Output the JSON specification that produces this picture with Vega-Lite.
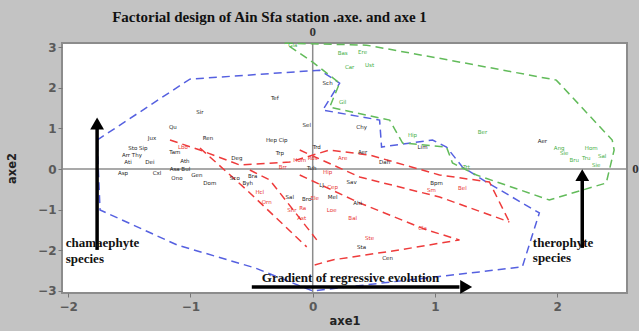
{
  "$schema": "https://vega.github.io/schema/vega-lite/v6.json",
  "width": 565,
  "height": 250,
  "autosize": {"type": "none"},
  "padding": {"left": 62, "top": 43, "right": 12, "bottom": 38},
  "background": "#c3c3c3",
  "view": {"fill": "white", "stroke": "#8c8c8c", "strokeWidth": 2},
  "title": {
    "text": "Factorial design of Ain Sfa station .axe. and axe 1",
    "font": "Liberation Serif",
    "fontSize": 15,
    "fontWeight": "bold",
    "color": "#111",
    "anchor": "middle",
    "dx": -75,
    "offset": 1
  },
  "config": {
    "axis": {
      "grid": false,
      "domain": false,
      "tickColor": "#777",
      "tickSize": 4,
      "labelFont": "DejaVu Sans",
      "labelFontSize": 12,
      "labelFontWeight": "bold",
      "labelColor": "#5a5a5a",
      "titleFont": "DejaVu Sans",
      "titleFontSize": 11.5,
      "titleFontWeight": "bold",
      "titleColor": "#222"
    }
  },
  "resolve": {"scale": {"color": "independent"}},
  "encoding": {
    "x": {"field": "x", "type": "quantitative",
      "scale": {"domain": [-2.05, 2.57], "nice": false, "zero": false},
      "axis": {"values": [-2, -1, 0, 1, 2], "title": "axe1", "labelPadding": 4, "titlePadding": 3}},
    "y": {"field": "y", "type": "quantitative",
      "scale": {"domain": [-3.05, 3.1], "nice": false, "zero": false},
      "axis": {"values": [-3, -2, -1, 0, 1, 2, 3], "title": "axe2", "labelPadding": 2, "titlePadding": 20}}
  },
  "datasets": {
    "labels": [
      {"x": -0.31, "y": 1.744, "t": "Tef", "g": "k"},
      {"x": -0.922, "y": 1.4, "t": "Sir", "g": "k"},
      {"x": -1.143, "y": 1.032, "t": "Qu", "g": "k"},
      {"x": -0.049, "y": 1.081, "t": "Sel", "g": "k"},
      {"x": -1.314, "y": 0.762, "t": "Jux", "g": "k"},
      {"x": -0.857, "y": 0.762, "t": "Ren", "g": "k"},
      {"x": -0.294, "y": 0.713, "t": "Hep Cip", "g": "k"},
      {"x": -1.429, "y": 0.516, "t": "Sto Sip", "g": "k"},
      {"x": -1.127, "y": 0.418, "t": "Tam", "g": "k"},
      {"x": -0.269, "y": 0.393, "t": "Trp", "g": "k"},
      {"x": -1.478, "y": 0.344, "t": "Arr Thy", "g": "k"},
      {"x": -1.51, "y": 0.172, "t": "Ati", "g": "k"},
      {"x": -1.331, "y": 0.172, "t": "Dei", "g": "k"},
      {"x": -0.62, "y": 0.27, "t": "Deg", "g": "k"},
      {"x": -1.045, "y": 0.197, "t": "Ath", "g": "k"},
      {"x": -1.551, "y": -0.098, "t": "Asp", "g": "k"},
      {"x": -1.273, "y": -0.098, "t": "Cxl", "g": "k"},
      {"x": -1.086, "y": 0.0, "t": "Asa Bul", "g": "k"},
      {"x": -1.11, "y": -0.221, "t": "Ono", "g": "k"},
      {"x": -0.947, "y": -0.147, "t": "Gen", "g": "k"},
      {"x": -0.841, "y": -0.344, "t": "Dom", "g": "k"},
      {"x": -0.637, "y": -0.221, "t": "Sco", "g": "k"},
      {"x": -0.531, "y": -0.344, "t": "Byh", "g": "k"},
      {"x": -0.49, "y": -0.172, "t": "Bra", "g": "k"},
      {"x": -0.188, "y": -0.688, "t": "Sal", "g": "k"},
      {"x": -0.049, "y": -0.737, "t": "Bro", "g": "k"},
      {"x": 0.122, "y": 2.113, "t": "Sch", "g": "k"},
      {"x": 0.4, "y": 1.032, "t": "Chy", "g": "k"},
      {"x": 0.033, "y": 0.541, "t": "Trd", "g": "k"},
      {"x": 0.408, "y": 0.418, "t": "Aer", "g": "k"},
      {"x": -0.008, "y": 0.025, "t": "Tuh", "g": "k"},
      {"x": 0.588, "y": 0.172, "t": "Dah", "g": "k"},
      {"x": 0.898, "y": 0.541, "t": "Lim", "g": "k"},
      {"x": 0.318, "y": -0.319, "t": "Sav", "g": "k"},
      {"x": 0.073, "y": -0.393, "t": "LJ", "g": "k"},
      {"x": 0.163, "y": -0.688, "t": "Mel", "g": "k"},
      {"x": 0.367, "y": -0.835, "t": "Ahi", "g": "k"},
      {"x": 0.4, "y": -1.916, "t": "Sta", "g": "k"},
      {"x": 1.012, "y": -0.344, "t": "Bpm", "g": "k"},
      {"x": 0.612, "y": -2.187, "t": "Cen", "g": "k"},
      {"x": 1.878, "y": 0.688, "t": "Aer", "g": "k"},
      {"x": -1.061, "y": 0.541, "t": "Lbo", "g": "r"},
      {"x": -0.433, "y": -0.565, "t": "Hcl", "g": "r"},
      {"x": -0.376, "y": -0.811, "t": "Orn", "g": "r"},
      {"x": -0.171, "y": -1.007, "t": "Shr", "g": "r"},
      {"x": -0.09, "y": -1.204, "t": "Ast", "g": "r"},
      {"x": -0.106, "y": 0.221, "t": "Hom", "g": "r"},
      {"x": 0.0, "y": 0.27, "t": "Ros", "g": "r"},
      {"x": 0.245, "y": 0.27, "t": "Are", "g": "r"},
      {"x": 0.122, "y": -0.074, "t": "Hip", "g": "r"},
      {"x": 0.163, "y": -0.442, "t": "Cep", "g": "r"},
      {"x": 0.016, "y": -0.713, "t": "Ele", "g": "r"},
      {"x": 0.155, "y": -1.007, "t": "Loe", "g": "r"},
      {"x": -0.082, "y": -0.958, "t": "Ra", "g": "r"},
      {"x": 0.327, "y": -1.204, "t": "Bal", "g": "r"},
      {"x": 0.898, "y": -1.45, "t": "Cla", "g": "r"},
      {"x": 0.465, "y": -1.695, "t": "Ste", "g": "r"},
      {"x": 0.971, "y": -0.516, "t": "Sm", "g": "r"},
      {"x": 1.224, "y": -0.467, "t": "Bel", "g": "r"},
      {"x": -0.245, "y": 0.049, "t": "Brr", "g": "r"},
      {"x": -0.163, "y": 3.047, "t": "Gla", "g": "g"},
      {"x": 0.245, "y": 2.85, "t": "Bas", "g": "g"},
      {"x": 0.408, "y": 2.875, "t": "Ere", "g": "g"},
      {"x": 0.302, "y": 2.506, "t": "Car", "g": "g"},
      {"x": 0.465, "y": 2.555, "t": "Ust", "g": "g"},
      {"x": 0.245, "y": 1.646, "t": "Gil", "g": "g"},
      {"x": 0.816, "y": 0.835, "t": "Hip", "g": "g"},
      {"x": 1.388, "y": 0.909, "t": "Ber", "g": "g"},
      {"x": 1.257, "y": 0.049, "t": "Trt", "g": "g"},
      {"x": 2.016, "y": 0.516, "t": "Ang", "g": "g"},
      {"x": 2.057, "y": 0.393, "t": "Sie", "g": "g"},
      {"x": 2.278, "y": 0.516, "t": "Hom", "g": "g"},
      {"x": 2.139, "y": 0.221, "t": "Bru", "g": "g"},
      {"x": 2.237, "y": 0.27, "t": "Tru", "g": "g"},
      {"x": 2.367, "y": 0.319, "t": "Sal", "g": "g"},
      {"x": 2.318, "y": 0.098, "t": "Sie", "g": "g"}
    ],
    "hulls": [
      {"grp": "b", "o": 1, "x": -1.763, "y": 0.713},
      {"grp": "b", "o": 2, "x": -1.004, "y": 2.211},
      {"grp": "b", "o": 3, "x": 0.057, "y": 2.432},
      {"grp": "b", "o": 4, "x": 0.22, "y": 2.113},
      {"grp": "b", "o": 5, "x": 0.082, "y": 1.45},
      {"grp": "b", "o": 6, "x": 0.547, "y": 1.204},
      {"grp": "b", "o": 7, "x": 0.563, "y": 0.541},
      {"grp": "b", "o": 8, "x": 0.98, "y": 0.713},
      {"grp": "b", "o": 9, "x": 1.094, "y": 0.541},
      {"grp": "b", "o": 10, "x": 1.224, "y": 0.049},
      {"grp": "b", "o": 11, "x": 1.42, "y": -0.319},
      {"grp": "b", "o": 12, "x": 1.853, "y": -1.081},
      {"grp": "b", "o": 13, "x": 1.714, "y": -2.408},
      {"grp": "b", "o": 14, "x": 1.363, "y": -2.531},
      {"grp": "b", "o": 15, "x": 0.0, "y": -3.0},
      {"grp": "b", "o": 16, "x": -0.473, "y": -2.432},
      {"grp": "b", "o": 17, "x": -1.11, "y": -1.867},
      {"grp": "b", "o": 18, "x": -1.739, "y": -1.007},
      {"grp": "b", "o": 19, "x": -1.763, "y": 0.713},
      {"grp": "g", "o": 1, "x": -0.229, "y": 3.096},
      {"grp": "g", "o": 2, "x": 0.441, "y": 3.047},
      {"grp": "g", "o": 3, "x": 1.118, "y": 2.678},
      {"grp": "g", "o": 4, "x": 1.992, "y": 2.187},
      {"grp": "g", "o": 5, "x": 2.449, "y": 0.713},
      {"grp": "g", "o": 6, "x": 2.465, "y": 0.467},
      {"grp": "g", "o": 7, "x": 2.4, "y": -0.344},
      {"grp": "g", "o": 8, "x": 1.935, "y": -0.762},
      {"grp": "g", "o": 9, "x": 1.339, "y": -0.147},
      {"grp": "g", "o": 10, "x": 1.143, "y": 0.147},
      {"grp": "g", "o": 11, "x": 1.094, "y": 0.541},
      {"grp": "g", "o": 12, "x": 0.735, "y": 0.639},
      {"grp": "g", "o": 13, "x": 0.629, "y": 1.204},
      {"grp": "g", "o": 14, "x": 0.139, "y": 1.523},
      {"grp": "g", "o": 15, "x": 0.22, "y": 2.113},
      {"grp": "g", "o": 16, "x": 0.0, "y": 2.629},
      {"grp": "g", "o": 17, "x": -0.229, "y": 3.096},
      {"grp": "r1", "o": 1, "x": -1.167, "y": 0.713},
      {"grp": "r1", "o": 2, "x": -0.922, "y": 0.467},
      {"grp": "r1", "o": 3, "x": -0.596, "y": 0.098},
      {"grp": "r1", "o": 4, "x": -0.188, "y": 0.172},
      {"grp": "r1", "o": 5, "x": 0.139, "y": 0.467},
      {"grp": "r1", "o": 6, "x": 0.465, "y": 0.344},
      {"grp": "r1", "o": 7, "x": 1.037, "y": -0.147},
      {"grp": "r1", "o": 8, "x": 1.445, "y": -0.319},
      {"grp": "r1", "o": 9, "x": 1.608, "y": -1.302},
      {"grp": "r2", "o": 1, "x": -0.106, "y": 0.467},
      {"grp": "r2", "o": 2, "x": 0.384, "y": -0.197},
      {"grp": "r2", "o": 3, "x": 1.037, "y": -0.688},
      {"grp": "r2", "o": 4, "x": 1.608, "y": -1.302},
      {"grp": "r3", "o": 1, "x": -0.106, "y": -0.147},
      {"grp": "r3", "o": 2, "x": 0.384, "y": -0.835},
      {"grp": "r3", "o": 3, "x": 0.931, "y": -1.499},
      {"grp": "r3", "o": 4, "x": 1.2, "y": -1.744},
      {"grp": "r3", "o": 5, "x": 0.71, "y": -1.99},
      {"grp": "r3", "o": 6, "x": 0.163, "y": -2.236},
      {"grp": "r3", "o": 7, "x": 0.016, "y": -2.359},
      {"grp": "r4", "o": 1, "x": -0.922, "y": 0.516},
      {"grp": "r4", "o": 2, "x": -0.539, "y": -0.516},
      {"grp": "r4", "o": 3, "x": -0.049, "y": -1.916},
      {"grp": "r5", "o": 1, "x": -0.514, "y": -0.025},
      {"grp": "r5", "o": 2, "x": -0.351, "y": -0.27},
      {"grp": "r5", "o": 3, "x": 0.033, "y": -1.744}
    ],
    "arrows": [
      {"x": -1.763, "y": -1.99, "x2": -1.763, "y2": 1.02},
      {"x": 2.204, "y": -1.94, "x2": 2.204, "y2": -0.25},
      {"x": -0.498, "y": -2.9, "x2": 1.2, "y2": -2.9}
    ],
    "heads": [
      {"x": -1.763, "y": 1.12, "dir": "up"},
      {"x": 2.204, "y": -0.15, "dir": "up"},
      {"x": 1.255, "y": -2.9, "dir": "right"}
    ],
    "notes": [
      {"x": -2.02, "y": -1.82, "t": "chamaephyte"},
      {"x": -2.02, "y": -2.21, "t": "species"},
      {"x": 1.8, "y": -1.82, "t": "therophyte"},
      {"x": 1.8, "y": -2.19, "t": "species"},
      {"x": -0.416, "y": -2.68, "t": "Gradient of regressive evolution"}
    ]
  },
  "layer": [
    {
      "data": {"values": [{"x": 0, "y": 0}]},
      "mark": {"type": "rule", "color": "#8c8c8c", "strokeWidth": 1.5},
      "encoding": {
        "y": {"datum": -3.05, "type": "quantitative"},
        "y2": {"datum": 3.1}
      }
    },
    {
      "data": {"values": [{"x": 0, "y": 0}]},
      "mark": {"type": "rule", "color": "#8c8c8c", "strokeWidth": 1.5},
      "encoding": {
        "x": {"datum": -2.05, "type": "quantitative"},
        "x2": {"datum": 2.57}
      }
    },
    {
      "data": {"name": "hulls"},
      "mark": {"type": "line", "strokeWidth": 1.5, "strokeDash": [8, 5], "interpolate": "linear"},
      "encoding": {
        "detail": {"field": "grp"},
        "order": {"field": "o", "type": "quantitative"},
        "color": {"field": "grp", "type": "nominal",
          "scale": {"domain": ["b", "g", "r1", "r2", "r3", "r4", "r5"],
            "range": ["#5560e0", "#62bb5a", "#ee3b3b", "#ee3b3b", "#ee3b3b", "#ee3b3b", "#ee3b3b"]},
          "legend": null}
      }
    },
    {
      "data": {"name": "labels"},
      "mark": {"type": "text", "font": "DejaVu Sans", "fontSize": 5.5, "align": "center", "baseline": "middle"},
      "encoding": {
        "text": {"field": "t"},
        "color": {"field": "g", "type": "nominal",
          "scale": {"domain": ["k", "r", "g"], "range": ["#222222", "#e83030", "#3fae3f"]}, "legend": null}
      }
    },
    {
      "data": {"name": "arrows"},
      "mark": {"type": "rule", "color": "black", "strokeWidth": 3.5},
      "encoding": {
        "x2": {"field": "x2"},
        "y2": {"field": "y2"}
      }
    },
    {
      "data": {"name": "heads"},
      "mark": {"type": "point", "filled": true, "color": "black", "opacity": 1, "size": 190},
      "encoding": {
        "shape": {"field": "dir", "type": "nominal",
          "scale": {"domain": ["up", "right"], "range": ["triangle-up", "triangle-right"]}, "legend": null}
      }
    },
    {
      "data": {"name": "notes"},
      "mark": {"type": "text", "font": "Liberation Serif", "fontSize": 13, "fontWeight": "bold", "align": "left", "baseline": "middle", "color": "#111"},
      "encoding": {
        "text": {"field": "t"}
      }
    },
    {
      "data": {"values": [{"x": 0, "y": 3.38, "t": "0"}, {"x": 2.64, "y": 0, "t": "0"}]},
      "mark": {"type": "text", "font": "Liberation Serif", "fontSize": 13, "fontWeight": "bold", "align": "center", "baseline": "middle", "color": "#333"},
      "encoding": {
        "text": {"field": "t"}
      }
    }
  ]
}
